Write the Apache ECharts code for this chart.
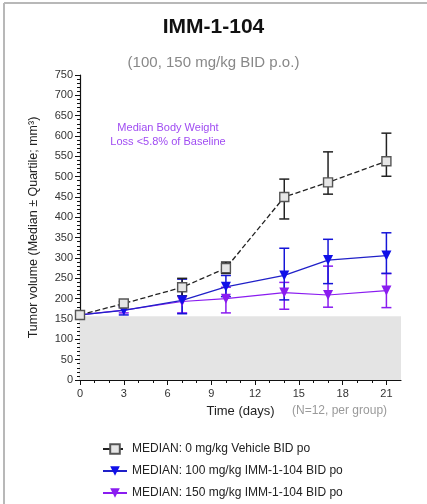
<!DOCTYPE html>
<html>
<head>
<meta charset="utf-8">
<title>IMM-1-104</title>
<script src="https://cdn.jsdelivr.net/npm/echarts@6/dist/echarts.min.js"></script>
<style>
  html, body { margin: 0; padding: 0; background: #fff; }
  #chart { width: 427px; height: 504px; }
</style>
</head>
<body>
<div id="chart"></div>
<script>
// days of measurement
var days = [0, 3, 7, 10, 14, 17, 21];
var xTicks = [0, 3, 6, 9, 12, 15, 18, 21];

// vehicle 0 mg/kg
var vehMed  = [160, 188, 228, 275, 450, 486, 538];
var vehLow  = [155, 183, 207, 262, 396, 457, 501];
var vehHigh = [165, 193, 250, 290, 494, 561, 607];

// 100 mg/kg
var lowMed  = [160, 171, 196, 229, 257, 295, 306];
var lowLow  = [155, 160, 163, 205, 197, 237, 262];
var lowHigh = [165, 180, 248, 257, 324, 346, 362];

// 150 mg/kg
var highMed  = [160, 172, 193, 200, 215, 209, 220];
var highLow  = [155, 165, 165, 165, 174, 179, 178];
var highHigh = [165, 180, 220, 228, 240, 280, 262];

var names = [
  'MEDIAN: 0 mg/kg Vehicle BID po',
  'MEDIAN: 100 mg/kg IMM-1-104 BID po',
  'MEDIAN: 150 mg/kg IMM-1-104 BID po'
];
var shadeTop = 157;   // grey baseline band
var shadeEnd = 22;

var FONT = '"Liberation Sans", Arial, sans-serif';

function pairs(ys) {
  return days.map(function (d, i) { return [d, ys[i]]; });
}
function bars(lo, hi) {
  return days.map(function (d, i) { return [d, lo[i], hi[i]]; });
}
function errSeries(data, color, z) {
  return {
    type: 'custom',
    data: data,
    z: z,
    silent: true,
    encode: { x: 0, y: [1, 2] },
    renderItem: function (params, api) {
      var x = api.value(0);
      var a = api.coord([x, api.value(1)]);
      var b = api.coord([x, api.value(2)]);
      var w = 5;
      var st = { stroke: color, lineWidth: 1.5 };
      return {
        type: 'group',
        children: [
          { type: 'line', shape: { x1: a[0], y1: a[1], x2: b[0], y2: b[1] }, style: st },
          { type: 'line', shape: { x1: a[0] - w, y1: a[1], x2: a[0] + w, y2: a[1] }, style: st },
          { type: 'line', shape: { x1: b[0] - w, y1: b[1], x2: b[0] + w, y2: b[1] }, style: st }
        ]
      };
    }
  };
}

var chart = echarts.init(document.getElementById('chart'));
chart.setOption({
  animation: false,
  textStyle: { fontFamily: FONT },
  title: [
    { text: 'IMM-1-104', left: 'center', top: 12,
      textStyle: { fontSize: 21, fontWeight: 'bold', color: '#111', fontFamily: FONT } },
    { text: '(100, 150 mg/kg BID p.o.)', left: 'center', top: 50,
      textStyle: { fontSize: 15, fontWeight: 'normal', color: '#888', fontFamily: FONT } }
  ],
  grid: { left: 80, right: 26, top: 75, bottom: 124, containLabel: false },
  legend: {
    data: names,
    orient: 'vertical',
    left: 97,
    top: 438,
    height: 80,
    itemWidth: 24,
    itemHeight: 12,
    itemGap: 10,
    textStyle: { fontSize: 12, color: '#222', fontFamily: FONT }
  },
  xAxis: {
    type: 'value',
    min: 0,
    max: shadeEnd,
    interval: 3,
    name: 'Time (days)',
    nameLocation: 'middle',
    nameGap: 25,
    nameTextStyle: { fontSize: 13, color: '#222', fontFamily: FONT },
    axisLine: { lineStyle: { color: '#111', width: 1.2 } },
    axisTick: { customValues: xTicks, length: 5, lineStyle: { color: '#111' } },
    minorTick: { show: true, splitNumber: 3, length: 3, lineStyle: { color: '#111' } },
    axisLabel: { customValues: xTicks, fontSize: 11, color: '#333', margin: 8 },
    splitLine: { show: false }
  },
  yAxis: {
    type: 'value',
    min: 0,
    max: 750,
    interval: 50,
    name: 'Tumor volume (Median ± Quartile; mm³)',
    nameLocation: 'middle',
    nameGap: 40,
    nameTextStyle: { fontSize: 12.5, color: '#222', fontFamily: FONT },
    axisLine: { show: true, lineStyle: { color: '#111', width: 1.2 } },
    axisTick: { show: true, length: 5, lineStyle: { color: '#111' } },
    minorTick: { show: true, splitNumber: 5, length: 3, lineStyle: { color: '#111' } },
    axisLabel: { fontSize: 11, color: '#333', margin: 7 },
    splitLine: { show: false }
  },
  graphic: [
    { type: 'line', shape: { x1: 4, y1: 3, x2: 427, y2: 3 }, style: { stroke: '#b8b8b8', lineWidth: 2 } },
    { type: 'line', shape: { x1: 4, y1: 3, x2: 4, y2: 504 }, style: { stroke: '#b8b8b8', lineWidth: 2 } },
    { type: 'text', left: 292, top: 405,
      style: { text: '(N=12, per group)', fontSize: 12, fill: '#9a9a9a', font: '12px ' + FONT } },
    { type: 'text', x: 168, y: 121,
      style: { text: 'Median Body Weight\nLoss <5.8% of Baseline', align: 'center', lineHeight: 14,
        fill: '#a04cf2', font: '11px ' + FONT } }
  ],
  series: [
    {
      name: names[0],
      type: 'line',
      data: pairs(vehMed),
      z: 5,
      symbol: 'rect',
      symbolSize: 9,
      itemStyle: { color: '#e6e6e6', borderColor: '#555', borderWidth: 1.4 },
      lineStyle: { color: '#222', type: 'dashed', width: 1.3 },
      markArea: {
        silent: true,
        itemStyle: { color: '#e4e4e4' },
        data: [[{ coord: [0, 0] }, { coord: [shadeEnd, shadeTop] }]]
      }
    },
    {
      name: names[1],
      type: 'line',
      data: pairs(lowMed),
      z: 4,
      symbol: 'triangle',
      symbolRotate: 180,
      symbolSize: 10,
      itemStyle: { color: '#1010e8' },
      lineStyle: { color: '#2020c8', width: 1.3 }
    },
    {
      name: names[2],
      type: 'line',
      data: pairs(highMed),
      z: 3,
      symbol: 'triangle',
      symbolRotate: 180,
      symbolSize: 10,
      itemStyle: { color: '#8a1cf0' },
      lineStyle: { color: '#8a1cf0', width: 1.2 }
    },
    errSeries(bars(highLow, highHigh), '#8a1cf0', 2),
    errSeries(bars(lowLow, lowHigh), '#1515d8', 3),
    errSeries(bars(vehLow, vehHigh), '#222', 4)
  ]
});
</script>
</body>
</html>
